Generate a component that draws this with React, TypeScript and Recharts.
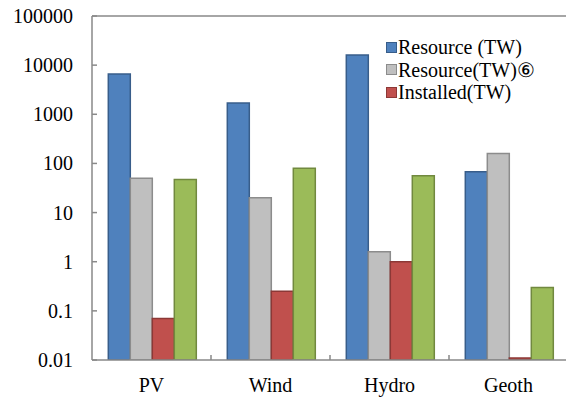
import React from 'react';
import { BarChart, Bar, XAxis, YAxis, ReferenceLine } from 'recharts';

const CATEGORIES = ['PV', 'Wind', 'Hydro', 'Geoth'];
const RESOURCE = [6600, 1700, 16000, 68];
const RESOURCE_6 = [50, 20, 1.6, 160];
const INSTALLED = [0.07, 0.25, 1.0, 0.011];
const OTHER = [47, 80, 56, 0.3];
const Y_TICKS = [0.01, 0.1, 1, 10, 100, 1000, 10000, 100000];

const SERIES = [
  { key: 'resource', name: 'Resource (TW)', values: RESOURCE, fill: '#4F81BD', stroke: '#385D8A', legend: true },
  { key: 'resource6', name: 'Resource(TW)\u2465', values: RESOURCE_6, fill: '#BFBFBF', stroke: '#8C8C8C', legend: true },
  { key: 'installed', name: 'Installed(TW)', values: INSTALLED, fill: '#C0504D', stroke: '#8C3836', legend: true },
  { key: 'other', name: 'Other', values: OTHER, fill: '#9BBB59', stroke: '#71893F', legend: false },
];

const data = CATEGORIES.map((c, i) => {
  const row: Record<string, string | number> = { name: c };
  SERIES.forEach((s) => {
    row[s.key] = s.values[i];
  });
  return row;
});

const FONT = "'Liberation Serif', Tinos, 'Times New Roman', Times, 'DejaVu Serif', serif";
const AXIS_COLOR = '#898989';

const CHART_W = 572;
const CHART_H = 400;
const MARGIN = { top: 16, right: 4, bottom: 0, left: 0 };
const Y_AXIS_W = 92;
const X_AXIS_H = 40;
const BAND = (CHART_W - MARGIN.left - MARGIN.right - Y_AXIS_W) / CATEGORIES.length;
const Y_TICK_MARGIN = 19;

const YTick = (props: any) => {
  const { x, y, payload } = props;
  const axisX = x + Y_TICK_MARGIN;
  return (
    <g>
      <line x1={axisX} x2={axisX + 5} y1={y} y2={y} stroke={AXIS_COLOR} strokeWidth={1.5} />
      <text x={x} y={y} dy="0.35em" textAnchor="end" style={{ fontFamily: FONT }} fontSize={20} fill="#000">
        {String(payload.value)}
      </text>
    </g>
  );
};

const XTick = (props: any) => {
  const { x, y, payload, index } = props;
  return (
    <g>
      {index > 0 && (
        <line x1={x - BAND / 2} x2={x - BAND / 2} y1={y} y2={y - 5} stroke={AXIS_COLOR} strokeWidth={1.5} />
      )}
      <text x={x} y={y + 25} dy="0.35em" textAnchor="middle" style={{ fontFamily: FONT }} fontSize={20} fill="#000">
        {payload.value}
      </text>
    </g>
  );
};

const ChartLegend = () => (
  <div style={{ position: 'absolute', left: 386, top: 36, fontFamily: FONT, fontSize: 20, color: '#000' }}>
    {SERIES.filter((s) => s.legend).map((s) => (
      <div key={s.key} style={{ display: 'flex', alignItems: 'center', height: 22.5, whiteSpace: 'nowrap' }}>
        <span
          style={{
            display: 'inline-block',
            width: 9,
            height: 9,
            background: s.fill,
            border: `1px solid ${s.stroke}`,
            marginRight: 1,
          }}
        />
        <span>{s.name}</span>
      </div>
    ))}
  </div>
);

export default function App() {
  return (
    <div style={{ position: 'absolute', left: 0, top: 0, width: 566, height: 400, overflow: 'hidden', background: '#fff' }}>
      <BarChart
        width={CHART_W}
        height={CHART_H}
        data={data}
        margin={MARGIN}
        barCategoryGap="13.7%"
        barGap={0}
      >
        <XAxis
          dataKey="name"
          height={X_AXIS_H}
          tickSize={0}
          tickMargin={0}
          tick={<XTick />}
          axisLine={{ stroke: AXIS_COLOR, strokeWidth: 1.5 }}
          tickLine={false}
          interval={0}
        />
        <YAxis
          scale="log"
          domain={[0.01, 100000]}
          ticks={Y_TICKS}
          width={Y_AXIS_W}
          tickSize={0}
          tickMargin={Y_TICK_MARGIN}
          tick={<YTick />}
          axisLine={{ stroke: AXIS_COLOR, strokeWidth: 1.5 }}
          tickLine={false}
          allowDataOverflow
          interval={0}
        />
        <ReferenceLine y={100000} stroke={AXIS_COLOR} strokeWidth={1.5} />
        {SERIES.map((s) => (
          <Bar
            key={s.key}
            dataKey={s.key}
            name={s.name}
            fill={s.fill}
            stroke={s.stroke}
            strokeWidth={1.5}
            isAnimationActive={false}
          />
        ))}
      </BarChart>
      <ChartLegend />
    </div>
  );
}
